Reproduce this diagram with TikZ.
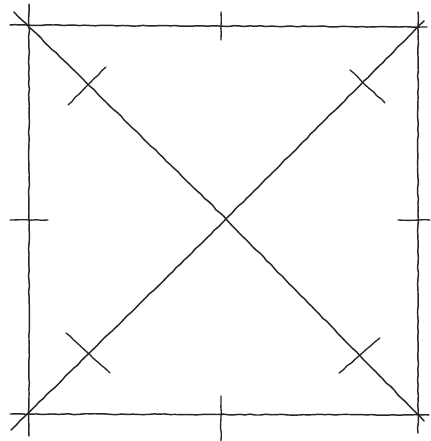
\documentclass[tikz,border=0pt]{standalone}
\usetikzlibrary{decorations.pathmorphing}
\begin{document}
\begin{tikzpicture}[x=0.75pt,y=-0.75pt,
  pen/.style={draw=black!85,line width=1.1pt,line cap=round,decorate,decoration={random steps,segment length=4pt,amplitude=0.35pt}},
  tick/.style={pen,line width=1pt}]
\useasboundingbox[fill=white] (0,0) rectangle (430,441);
% corners and centre
\coordinate (tl) at (29,25);
\coordinate (tr) at (418,27);
\coordinate (bl) at (29,414);
\coordinate (br) at (418,415);
\coordinate (c) at (226,219);
% extended ends
\coordinate (tlx) at (10,25);  \coordinate (trx) at (427,27);
\coordinate (blx) at (10,414); \coordinate (brx) at (429,415);
\coordinate (tly) at (29,4);   \coordinate (bly) at (29,436);
\coordinate (try) at (418,12); \coordinate (bry) at (418,433);
\coordinate (tld) at (14,12);  \coordinate (brd) at (424,421);
\coordinate (trd) at (424,21); \coordinate (bld) at (11,430);
% square
\draw[pen] (tlx) -- (trx);
\draw[pen] (blx) -- (brx);
\draw[pen] (tly) -- (bly);
\draw[pen] (try) -- (bry);
% diagonals
\draw[pen] (tld) -- (c) -- (brd);
\draw[pen] (trd) -- (c) -- (bld);
% midpoint ticks
\coordinate (mt1) at (221,12); \coordinate (mt2) at (221,40);
\coordinate (mb1) at (221,396); \coordinate (mb2) at (221,441);
\coordinate (ml1) at (10,220); \coordinate (ml2) at (48,220);
\coordinate (mr1) at (398,220); \coordinate (mr2) at (430,220);
\draw[tick] (mt1) -- (mt2);
\draw[tick] (mb1) -- (mb2);
\draw[tick] (ml1) -- (ml2);
\draw[tick] (mr1) -- (mr2);
% crosses on diagonals
\coordinate (x1a) at (68,105); \coordinate (x1b) at (106,67);
\coordinate (x2a) at (350,70); \coordinate (x2b) at (385,103);
\coordinate (x3a) at (66,333); \coordinate (x3b) at (110,373);
\coordinate (x4a) at (339,373); \coordinate (x4b) at (380,338);
\draw[tick] (x1a) -- (x1b);
\draw[tick] (x2a) -- (x2b);
\draw[tick] (x3a) -- (x3b);
\draw[tick] (x4a) -- (x4b);
\end{tikzpicture}
\end{document}
